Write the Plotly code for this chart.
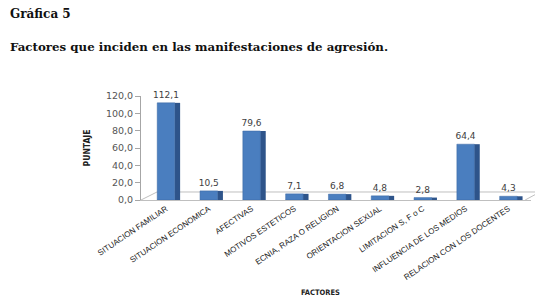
import plotly.graph_objects as go

categories = ["SITUACION FAMILIAR", "SITUACION ECONOMICA", "AFECTIVAS", "MOTIVOS ESTETICOS",
              "ECNIA, RAZA O RELIGION", "ORIENTACION SEXUAL", "LIMITACION S, F o C",
              "INFLUENCIA DE LOS MEDIOS", "RELACION CON LOS DOCENTES"]
values = [112.1, 10.5, 79.6, 7.1, 6.8, 4.8, 2.8, 64.4, 4.3]
y_ticks = [0, 20, 40, 60, 80, 100, 120]
y_ticktext = ["0,0", "20,0", "40,0", "60,0", "80,0", "100,0", "120,0"]

fig = go.Figure()
# darker side face (pseudo 3D)
fig.add_trace(go.Bar(x=categories, y=values, width=0.13, offset=0.2,
                     marker=dict(color="#2E548A", line=dict(width=0)),
                     hoverinfo="skip", showlegend=False))
# front face
fig.add_trace(go.Bar(x=categories, y=values, width=0.41, offset=-0.205,
                     marker=dict(color="#4A7EBF", line=dict(color="#3A66A0", width=0.5)),
                     text=[f"{v:.1f}".replace(".", ",") for v in values],
                     textposition="outside", cliponaxis=False, constraintext="none",
                     textfont=dict(family="DejaVu Sans", size=9, color="#404040"),
                     showlegend=False))

fig.add_annotation(text="<b>Gráfica 5</b>", xref="paper", yref="paper", x=-0.341, y=1.788,
                   xanchor="left", yanchor="middle", showarrow=False,
                   font=dict(family="DejaVu Serif", size=12, color="#111111"))
fig.add_annotation(text="<b>Factores que inciden en las manifestaciones de agresión.</b>",
                   xref="paper", yref="paper", x=-0.341, y=1.471,
                   xanchor="left", yanchor="middle", showarrow=False,
                   font=dict(family="DejaVu Serif", size=11.8, color="#111111"))
fig.add_annotation(text="<b>FACTORES</b>", xref="paper", yref="paper", x=0.459, y=-0.894,
                   xanchor="center", yanchor="middle", showarrow=False,
                   font=dict(family="DejaVu Sans Condensed", size=7.5, color="#222222"))

# 3D floor outline (decoration)
floor = dict(type="line", xref="paper", yref="paper", line=dict(color="#BFBFBF", width=1), layer="below")
fig.add_shape(x0=0, y0=0, x1=0.041, y1=0.077, **floor)
fig.add_shape(x0=0.041, y0=0.077, x1=1.023, y1=0.077, **floor)
fig.add_shape(x0=0.985, y0=0, x1=1.023, y1=0.077, **floor)

fig.update_layout(
    width=535, height=296,
    margin=dict(l=133, r=12, t=88, b=104),
    paper_bgcolor="white", plot_bgcolor="white",
    barmode="overlay",
    separators=",.",
    xaxis=dict(tickangle=-34, automargin=False, range=[-0.584, 8.527],
               tickfont=dict(family="Liberation Sans", size=8, color="#222222"),
               showline=True, linecolor="#BFBFBF", linewidth=1, ticks="", showgrid=False),
    yaxis=dict(range=[0, 120], tickvals=y_ticks, ticktext=y_ticktext, automargin=False,
               tickfont=dict(family="DejaVu Sans", size=9.5, color="#555555"),
               showline=True, linecolor="#A6A6A6", linewidth=1, ticks="outside", ticklen=5,
               tickcolor="#A6A6A6", showgrid=False, zeroline=False,
               title=dict(text="<b>PUNTAJE</b>", font=dict(family="DejaVu Sans Condensed", size=8.5, color="#222222"),
                          standoff=13)),
)

fig.write_html("out.html")
